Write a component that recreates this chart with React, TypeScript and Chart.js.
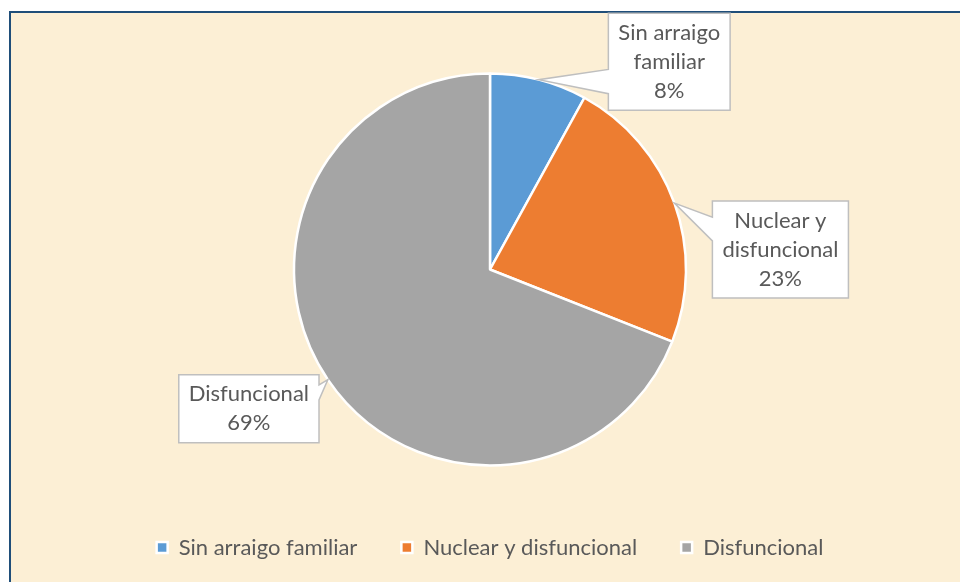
import React, { useEffect, useRef } from "react";
import { Chart, registerables } from "chart.js";

Chart.register(...registerables);

// ---- data ----
const categories = ["Sin arraigo familiar", "Nuclear y disfuncional", "Disfuncional"];
const values = [8, 23, 69];
const calloutNames = [["Sin arraigo", "familiar"], ["Nuclear y", "disfuncional"], ["Disfuncional"]];

// ---- styles ----
const colors = ["#5B9BD5", "#ED7D31", "#A5A5A5"];
const FONT = "Lato, 'Open Sans', sans-serif";
const FONT_SIZE = 22;
const TEXT_COLOR = "#595959";
// callout box centre offset from the slice tip, and pointer base fractions on the box edge
const calloutOffsets = [
  { dx: 130.5, dy: -18, b1: 0.58, b2: 0.83 },
  { dx: 106, dy: 46.5, b1: 0.165, b2: 0.41 },
  { dx: -79, dy: 29, b1: 0.15, b2: 0.37 },
];

const calloutPlugin = {
  id: "callouts",
  afterDatasetsDraw(chart: any) {
    const ctx = chart.ctx as CanvasRenderingContext2D;
    const meta = chart.getDatasetMeta(0);
    const total = values.reduce((a, b) => a + b, 0);
    ctx.save();
    ctx.font = `${FONT_SIZE}px ${FONT}`;
    meta.data.forEach((arc: any, i: number) => {
      const p = arc.getProps(["x", "y", "startAngle", "endAngle", "outerRadius"], true);
      const mid = (p.startAngle + p.endAngle) / 2;
      const tx = p.x + Math.cos(mid) * p.outerRadius;
      const ty = p.y + Math.sin(mid) * p.outerRadius;
      const lines = [...calloutNames[i], `${Math.round((values[i] / total) * 100)}%`];
      const lineH = 29;
      const padX = 10;
      const padY = 5;
      const w = Math.max(...lines.map((l) => ctx.measureText(l).width)) + padX * 2;
      const h = lines.length * lineH + padY * 2;
      const off = calloutOffsets[i];
      const cx = tx + off.dx;
      const cy = ty + off.dy;
      const left = cx - w / 2;
      const right = cx + w / 2;
      const top = cy - h / 2;
      const bottom = cy + h / 2;
      const yb1 = top + off.b1 * h;
      const yb2 = top + off.b2 * h;
      ctx.beginPath();
      if (tx < left) {
        ctx.moveTo(left, top);
        ctx.lineTo(right, top);
        ctx.lineTo(right, bottom);
        ctx.lineTo(left, bottom);
        ctx.lineTo(left, yb2);
        ctx.lineTo(tx, ty);
        ctx.lineTo(left, yb1);
        ctx.closePath();
      } else {
        ctx.moveTo(left, top);
        ctx.lineTo(right, top);
        ctx.lineTo(right, yb1);
        ctx.lineTo(tx, ty);
        ctx.lineTo(right, yb2);
        ctx.lineTo(right, bottom);
        ctx.lineTo(left, bottom);
        ctx.closePath();
      }
      ctx.fillStyle = "#FFFFFF";
      ctx.fill();
      ctx.lineWidth = 1.5;
      ctx.strokeStyle = "#BFBFBF";
      ctx.stroke();
      ctx.fillStyle = TEXT_COLOR;
      ctx.textAlign = "center";
      ctx.textBaseline = "middle";
      lines.forEach((l, k) => {
        ctx.fillText(l, cx, top + padY + lineH * (k + 0.5));
      });
    });
    ctx.restore();
  },
};

export default function App() {
  const ref = useRef<HTMLCanvasElement | null>(null);
  useEffect(() => {
    document.body.style.margin = "0";
    document.body.style.overflow = "hidden";
    if (!ref.current) return;
    const chart = new Chart(ref.current, {
      type: "pie",
      data: {
        labels: categories,
        datasets: [
          {
            data: values,
            backgroundColor: colors,
            borderColor: "#FFFFFF",
            borderWidth: 2.5,
            radius: 196,
          } as any,
        ],
      },
      options: {
        responsive: false,
        maintainAspectRatio: false,
        animation: false,
        layout: { padding: { left: 20, right: 0, top: 46.5, bottom: 13.5 } },
        plugins: {
          legend: {
            position: "bottom",
            labels: {
              boxWidth: 11,
              boxHeight: 11,
              padding: 44,
              color: TEXT_COLOR,
              font: { family: FONT, size: FONT_SIZE },
            },
          },
          tooltip: { enabled: false },
        },
      },
      plugins: [calloutPlugin],
    });
    return () => chart.destroy();
  }, []);
  return (
    <div style={{ position: "absolute", left: 0, top: 0, width: 960, height: 582, overflow: "hidden", background: "#FFFFFF" }}>
      <div
        style={{
          position: "absolute",
          left: 9,
          top: 11,
          width: 1000,
          height: 620,
          border: "2px solid #1F4E79",
          background: "#FCEFD5",
        }}
      />
      <canvas ref={ref} width={960} height={582} style={{ position: "absolute", left: 0, top: 0, width: 960, height: 582 }} />
    </div>
  );
}
